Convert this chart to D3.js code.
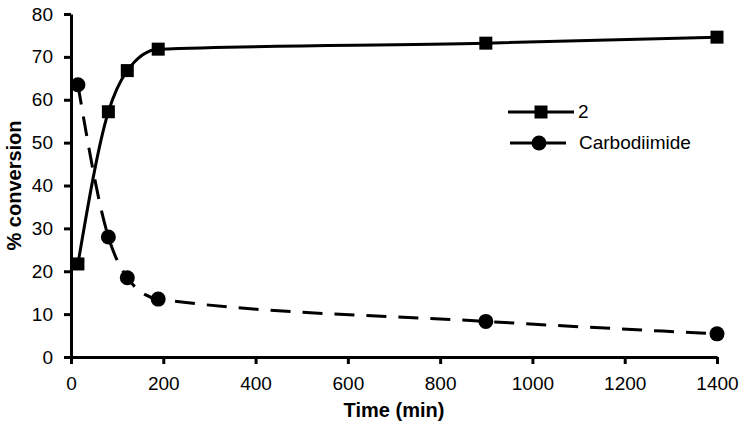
<!DOCTYPE html>
<html lang="en">
<head>
  <meta charset="UTF-8">
  <title>% conversion vs time</title>
  <script src="https://d3js.org/d3.v7.min.js"></script>
  <style>
    body { margin: 0; background: #fff; font-family: "Liberation Sans", Arial, sans-serif; }
    .axis text { font-size: 19px; fill: #000; font-family: "Liberation Sans", Arial, sans-serif; }
    .axis path, .axis line { stroke: #000; stroke-width: 3; }
  </style>
</head>
<body>
  <div id="chart"></div>

  <script>
    // data
    const times = [15, 81, 122, 189, 899, 1400];
    const product2 = [21.7, 57.2, 66.8, 71.8, 73.2, 74.6];
    const carbodiimide = [63.5, 28.0, 18.5, 13.5, 8.3, 5.4];
    const xTicks = [0, 200, 400, 600, 800, 1000, 1200, 1400];
    const yTicks = [0, 10, 20, 30, 40, 50, 60, 70, 80];

    const W = 745, H = 427;
    const margin = {top: 14, right: 28, bottom: 70, left: 71};
    const width = W - margin.left - margin.right,
          height = H - margin.top - margin.bottom;

    const svg = d3.select("#chart")
                  .append("svg")
                  .attr("width", W)
                  .attr("height", H);

    svg.append("rect").attr("width", W).attr("height", H).attr("fill", "#fff");

    const g = svg.append("g")
                 .attr("transform", `translate(${margin.left},${margin.top})`);

    const x = d3.scaleLinear().domain([0, 1400]).range([0, width]);
    const y = d3.scaleLinear().domain([0, 80]).range([height, 0]);

    g.append("g")
     .attr("class", "axis")
     .attr("transform", `translate(0,${height})`)
     .call(d3.axisBottom(x).tickValues(xTicks).tickFormat(d3.format("d"))
             .tickSize(7).tickSizeOuter(0).tickPadding(13));

    g.append("g")
     .attr("class", "axis")
     .call(d3.axisLeft(y).tickValues(yTicks).tickFormat(d3.format("d"))
             .tickSize(7).tickSizeOuter(0).tickPadding(11));

    // axis titles
    g.append("text")
     .attr("x", width / 2)
     .attr("y", height + 60)
     .attr("text-anchor", "middle")
     .style("font-size", "20px")
     .style("font-weight", "bold")
     .text("Time (min)");

    g.append("text")
     .attr("transform", `translate(${-50},${height / 2}) rotate(-90)`)
     .attr("text-anchor", "middle")
     .style("font-size", "20px")
     .style("font-weight", "bold")
     .text("% conversion");

    const pts2 = times.map((t, i) => [t, product2[i]]);
    const ptsC = times.map((t, i) => [t, carbodiimide[i]]);

    const line = d3.line()
                   .x(d => x(d[0]))
                   .y(d => y(d[1]))
                   .curve(d3.curveMonotoneX);

    g.append("path")
     .datum(pts2)
     .attr("fill", "none")
     .attr("stroke", "#000")
     .attr("stroke-width", 3)
     .attr("d", line);

    g.append("path")
     .datum(ptsC)
     .attr("fill", "none")
     .attr("stroke", "#000")
     .attr("stroke-width", 3)
     .attr("stroke-dasharray", "20,12")
     .attr("d", line);

    const sq = 13, r = 7.5;

    g.selectAll(".sq")
     .data(pts2)
     .enter()
     .append("rect")
     .attr("class", "sq")
     .attr("x", d => x(d[0]) - sq / 2)
     .attr("y", d => y(d[1]) - sq / 2)
     .attr("width", sq)
     .attr("height", sq)
     .attr("fill", "#000");

    g.selectAll(".dot")
     .data(ptsC)
     .enter()
     .append("circle")
     .attr("class", "dot")
     .attr("cx", d => x(d[0]))
     .attr("cy", d => y(d[1]))
     .attr("r", r)
     .attr("fill", "#000");

    // legend
    const legend = svg.append("g").attr("transform", "translate(508,112)");

    legend.append("line")
          .attr("x1", 0).attr("x2", 66).attr("y1", 0).attr("y2", 0)
          .attr("stroke", "#000").attr("stroke-width", 3);
    legend.append("rect")
          .attr("x", 33 - sq / 2).attr("y", -sq / 2)
          .attr("width", sq).attr("height", sq).attr("fill", "#000");
    legend.append("text")
          .attr("x", 70).attr("y", 6)
          .style("font-size", "19px")
          .text("2");

    legend.append("line")
          .attr("x1", 2).attr("x2", 58).attr("y1", 31).attr("y2", 31)
          .attr("stroke", "#000").attr("stroke-width", 3);
    legend.append("circle")
          .attr("cx", 31).attr("cy", 31).attr("r", r).attr("fill", "#000");
    legend.append("text")
          .attr("x", 71).attr("y", 37)
          .style("font-size", "19px")
          .text("Carbodiimide");
  </script>
</body>
</html>
